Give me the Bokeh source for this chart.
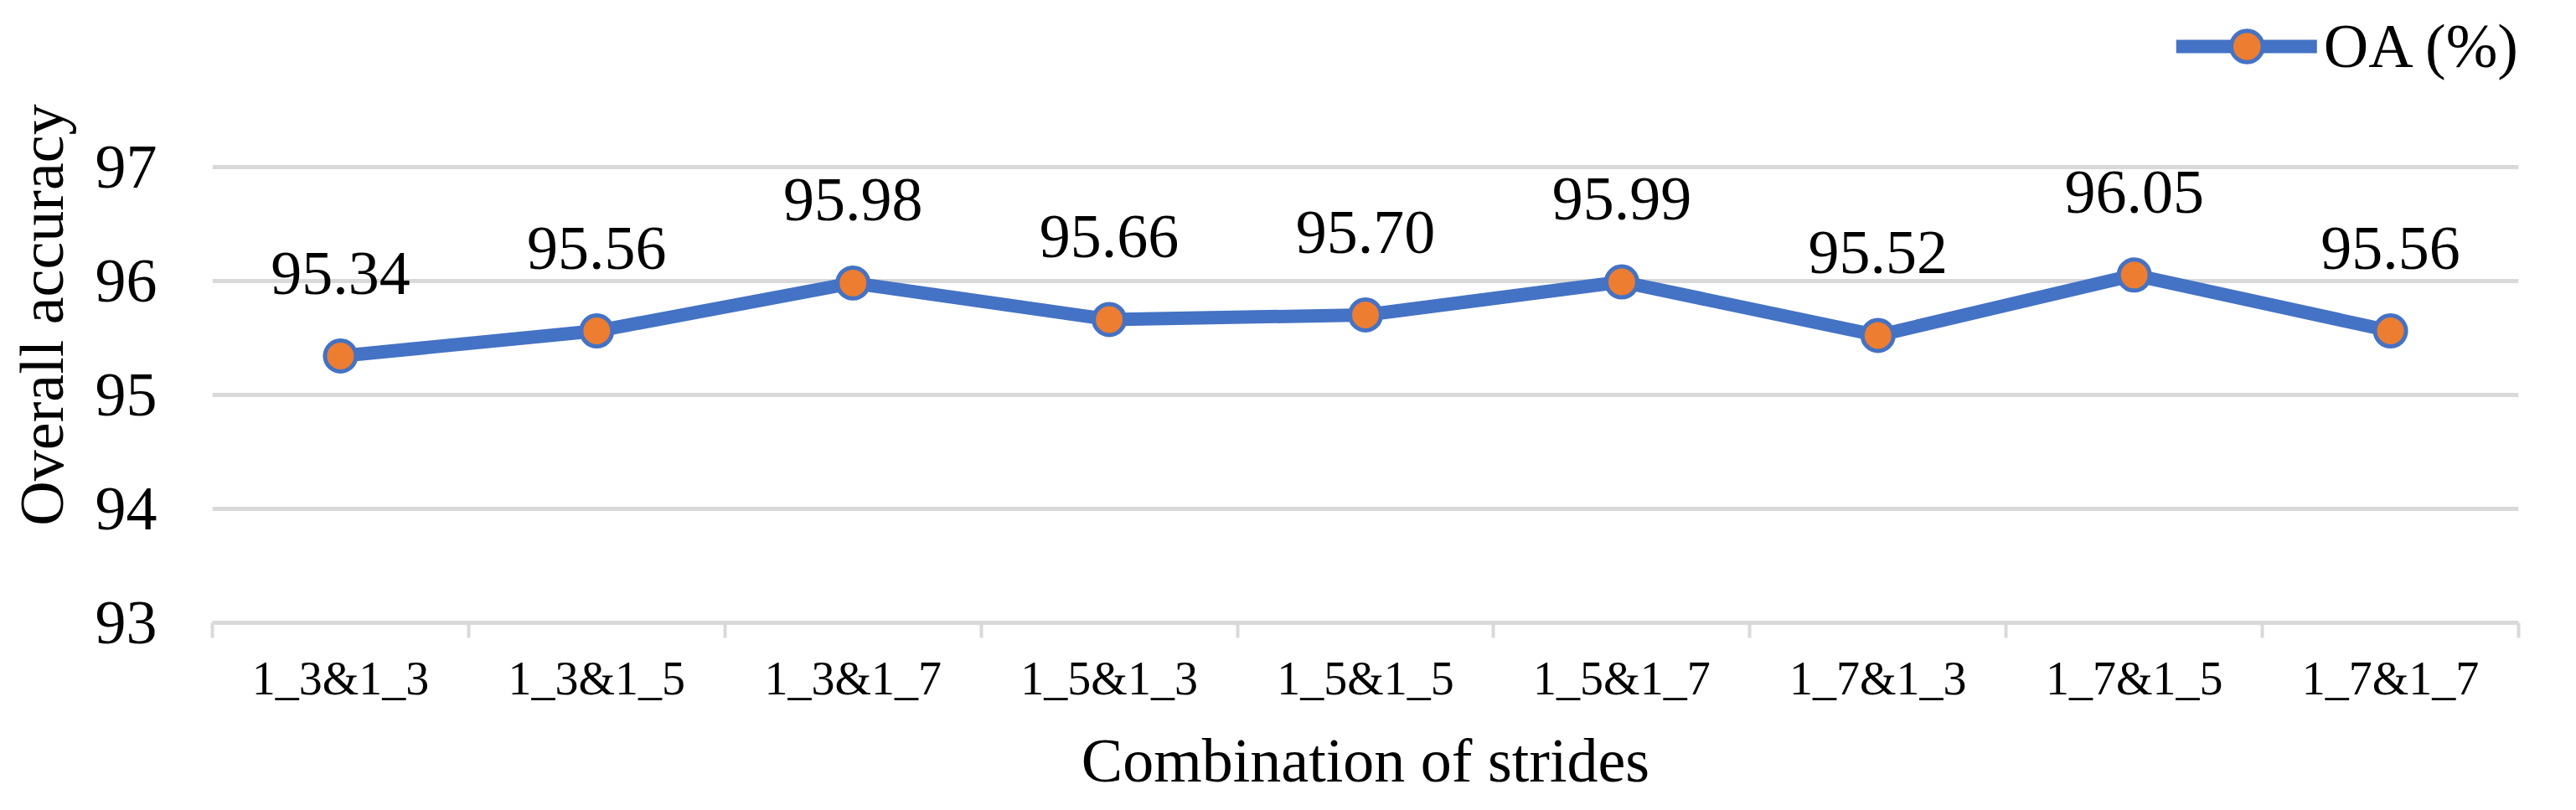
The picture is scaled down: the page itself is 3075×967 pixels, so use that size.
from bokeh.plotting import figure
from bokeh.models import Range1d, FixedTicker, Legend, LegendItem
from bokeh.core.properties import value
from bokeh.embed import file_html
from bokeh.resources import INLINE

categories = ["1_3&1_3", "1_3&1_5", "1_3&1_7", "1_5&1_3", "1_5&1_5",
              "1_5&1_7", "1_7&1_3", "1_7&1_5", "1_7&1_7"]
oa_values = [95.34, 95.56, 95.98, 95.66, 95.70, 95.99, 95.52, 96.05, 95.56]
y_ticks = [93, 94, 95, 96, 97]
series_name = "OA (%)"
x_title = "Combination of strides"
y_title = "Overall accuracy"

FONT = "Liberation Serif"
BLUE = "#4472C4"
ORANGE = "#ED7D31"
GRID = "#D9D9D9"

xs = [i + 0.5 for i in range(len(categories))]
labels = ["%.2f" % v for v in oa_values]

p = figure(width=3059, height=951, output_backend="svg", toolbar_location=None,
           x_range=Range1d(0, len(categories)), y_range=Range1d(93, 98.4),
           min_border_left=253, min_border_right=53, min_border_top=8,
           min_border_bottom=190)
p.outline_line_color = None
p.background_fill_color = None
p.border_fill_color = "white"

# x axis
p.xaxis.ticker = FixedTicker(ticks=xs, minor_ticks=list(range(len(categories) + 1)))
p.xaxis.major_label_overrides = {x: c for x, c in zip(xs, categories)}
p.xaxis.major_tick_line_color = None
p.xaxis.major_tick_out = 0
p.xaxis.major_tick_in = 0
p.xaxis.minor_tick_line_color = GRID
p.xaxis.minor_tick_line_width = 4
p.xaxis.minor_tick_out = 18
p.xaxis.minor_tick_in = 0
p.xaxis.axis_line_color = GRID
p.xaxis.axis_line_width = 5
p.xaxis.major_label_text_font = FONT
p.xaxis.major_label_text_font_size = "56px"
p.xaxis.major_label_text_color = "black"
p.xaxis.major_label_standoff = 17
p.xaxis.axis_label = x_title
p.xaxis.axis_label_text_font = FONT
p.xaxis.axis_label_text_font_size = "74px"
p.xaxis.axis_label_text_font_style = "normal"
p.xaxis.axis_label_text_color = "black"
p.xaxis.axis_label_standoff = 23

# y axis
p.yaxis.ticker = FixedTicker(ticks=y_ticks)
p.yaxis.axis_line_color = None
p.yaxis.major_tick_line_color = None
p.yaxis.minor_tick_line_color = None
p.yaxis.major_tick_out = 0
p.yaxis.major_tick_in = 0
p.yaxis.major_label_text_font = FONT
p.yaxis.major_label_text_font_size = "74px"
p.yaxis.major_label_text_color = "black"
p.yaxis.major_label_standoff = 66
p.yaxis.axis_label = y_title
p.yaxis.axis_label_text_font = FONT
p.yaxis.axis_label_text_font_size = "74px"
p.yaxis.axis_label_text_font_style = "normal"
p.yaxis.axis_label_text_color = "black"
p.yaxis.axis_label_standoff = 20

p.xgrid.grid_line_color = None
p.ygrid.ticker = FixedTicker(ticks=y_ticks)
p.ygrid.grid_line_color = GRID
p.ygrid.grid_line_width = 5

line_r = p.line(xs, oa_values, line_color=BLUE, line_width=16,
                line_join="round", line_cap="round")
pts_r = p.scatter(xs, oa_values, size=37, fill_color=ORANGE,
                  line_color=BLUE, line_width=5)
p.text(xs, oa_values, text=labels, text_align="center",
       text_baseline="alphabetic", y_offset=-99,
       text_font=value(FONT), text_font_size="74px", text_color="black")

legend = Legend(items=[LegendItem(label=series_name, renderers=[line_r, pts_r])],
                location="top_right", margin=0, padding=0, spacing=0,
                glyph_width=168, glyph_height=94, label_standoff=8,
                label_text_font=FONT, label_text_font_size="74px",
                label_text_color="black", border_line_color=None,
                background_fill_alpha=0)
p.add_layout(legend)

open("out.html", "w").write(file_html(p, INLINE))
